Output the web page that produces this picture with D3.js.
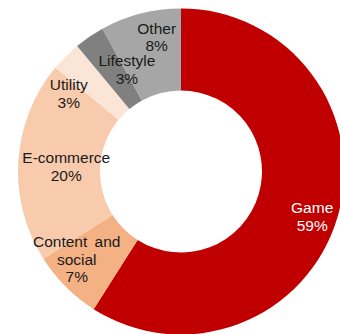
<!DOCTYPE html>
<html>
<head>
<meta charset="utf-8">
<script src="https://cdn.jsdelivr.net/npm/d3@7"></script>
<style>
  html, body { margin: 0; padding: 0; background: #fff; }
  svg { display: block; }
  text { font-family: "Liberation Sans", Arial, sans-serif; font-size: 15.5px; }
</style>
</head>
<body>
<svg id="chart" width="340" height="334"></svg>
<script>
// Share of apps by category (%)
const categories = ["Game", "Content and social", "E-commerce", "Utility", "Lifestyle", "Other"];
const shares = [59, 7, 20, 3, 3, 8];
const labelLines = [["Game"], ["Content and", "social"], ["E-commerce"], ["Utility"], ["Lifestyle"], ["Other"]];

const colors = ["#C00000", "#F4B183", "#F8CBAD", "#FBE5D6", "#808080", "#A6A6A6"];
const labelColors = ["#ffffff", "#1a1a1a", "#1a1a1a", "#1a1a1a", "#1a1a1a", "#1a1a1a"];
// nudges from the arc centroid so labels sit where they fit in each ring segment
const labelNudge = [[14, 11], [-18, 1.5], [7, 2.5], [-26, 8.5], [14.5, -1], [6, -16.5]];

const cx = 181, cy = 171.5, rOuter = 163, rInner = 81;
const lineH = 17.5;

const svg = d3.select("#chart");
const g = svg.append("g").attr("transform", `translate(${cx},${cy})`);

const data = categories.map((c, i) => ({ name: c, value: shares[i], i }));
const pie = d3.pie().value(d => d.value).sort(null);
const arc = d3.arc().innerRadius(rInner).outerRadius(rOuter);
const arcs = pie(data);

g.selectAll("path.slice")
  .data(arcs)
  .join("path")
  .attr("class", "slice")
  .attr("d", arc)
  .attr("fill", d => colors[d.data.i]);

const labels = g.selectAll("text.lbl")
  .data(arcs)
  .join("text")
  .attr("class", "lbl")
  .attr("text-anchor", "middle")
  .attr("fill", d => labelColors[d.data.i])
  .attr("transform", d => {
    const [x, y] = arc.centroid(d);
    const [nx, ny] = labelNudge[d.data.i];
    return `translate(${x + nx},${y + ny})`;
  });

labels.each(function(d) {
  const lines = labelLines[d.data.i].concat([d.data.value + "%"]);
  const t = d3.select(this);
  const top = -((lines.length - 1) * lineH) / 2;
  lines.forEach((ln, k) => {
    t.append("tspan")
      .attr("x", 0)
      .attr("y", top + k * lineH)
      .attr("dy", "0.35em")
      .attr("word-spacing", ln.includes(" ") ? "3px" : null)
      .text(ln);
  });
});
</script>
</body>
</html>
